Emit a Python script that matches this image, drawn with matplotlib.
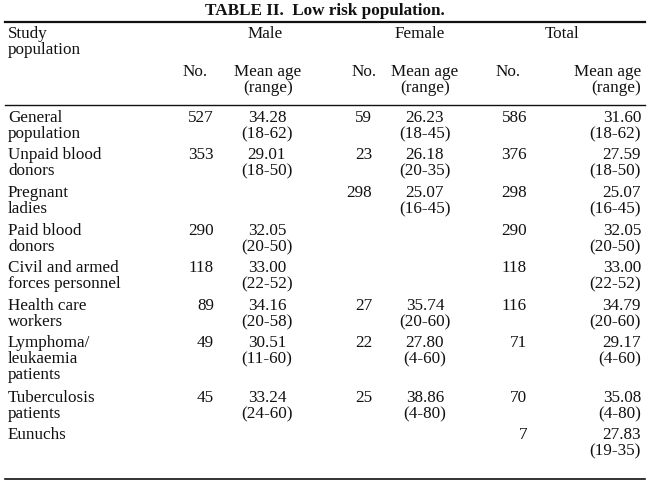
import matplotlib
matplotlib.use("Agg")
import matplotlib.pyplot as plt

populations = [["General", "population"], ["Unpaid blood", "donors"], ["Pregnant", "ladies"],
               ["Paid blood", "donors"], ["Civil and armed", "forces personnel"], ["Health care", "workers"],
               ["Lymphoma/", "leukaemia", "patients"], ["Tuberculosis", "patients"], ["Eunuchs"]]
male_no = ["527", "353", "", "290", "118", "89", "49", "45", ""]
male_mean = ["34.28", "29.01", "", "32.05", "33.00", "34.16", "30.51", "33.24", ""]
male_range = ["(18-62)", "(18-50)", "", "(20-50)", "(22-52)", "(20-58)", "(11-60)", "(24-60)", ""]
fem_no = ["59", "23", "298", "", "", "27", "22", "25", ""]
fem_mean = ["26.23", "26.18", "25.07", "", "", "35.74", "27.80", "38.86", ""]
fem_range = ["(18-45)", "(20-35)", "(16-45)", "", "", "(20-60)", "(4-60)", "(4-80)", ""]
tot_no = ["586", "376", "298", "290", "118", "116", "71", "70", "7"]
tot_mean = ["31.60", "27.59", "25.07", "32.05", "33.00", "34.79", "29.17", "35.08", "27.83"]
tot_range = ["(18-62)", "(18-50)", "(16-45)", "(20-50)", "(22-52)", "(20-60)", "(4-60)", "(4-80)", "(19-35)"]
row_y = [118, 155, 193, 231, 268, 306, 343, 398, 435]

fig = plt.figure(figsize=(6.5, 4.82), dpi=100)
ax = fig.add_axes([0, 0, 1, 1])
ax.set_xlim(0, 650); ax.set_ylim(482, 0); ax.axis("off")
plt.rcParams['font.family'] = ['Liberation Serif']
fs = 12.3
lh = 16

def t(x, y, s, ha="left", **kw):
    ax.text(x, y, s, ha=ha, va="center", fontsize=fs, color="#111", **kw)

t(325, 11, "TABLE II.  Low risk population.", ha="center", fontweight="bold")
ax.plot([5, 645], [22, 22], color="#111", lw=1.6)
t(8, 34, "Study"); t(8, 50, "population")
t(265, 34, "Male", ha="center"); t(420, 34, "Female", ha="center"); t(562, 34, "Total", ha="center")
for xn, xm, ha in [(195, 268, "center"), (364, 425, "center"), (508, 641, "right")]:
    t(xn, 72, "No.", ha="center")
    t(xm, 72, "Mean age", ha=ha); t(xm, 88, "(range)", ha=ha)
ax.plot([5, 645], [105, 105], color="#111", lw=1.0)

for i, y in enumerate(row_y):
    for k, line in enumerate(populations[i]):
        t(8, y + k * lh, line)
    t(214, y, male_no[i], ha="right")
    t(267, y, male_mean[i], ha="center"); t(267, y + lh, male_range[i], ha="center")
    t(372, y, fem_no[i], ha="right")
    t(425, y, fem_mean[i], ha="center"); t(425, y + lh, fem_range[i], ha="center")
    t(527, y, tot_no[i], ha="right")
    t(641, y, tot_mean[i], ha="right"); t(641, y + lh, tot_range[i], ha="right")

ax.plot([5, 645], [479, 479], color="#111", lw=1.2)
fig.savefig("out.png", dpi=100)
